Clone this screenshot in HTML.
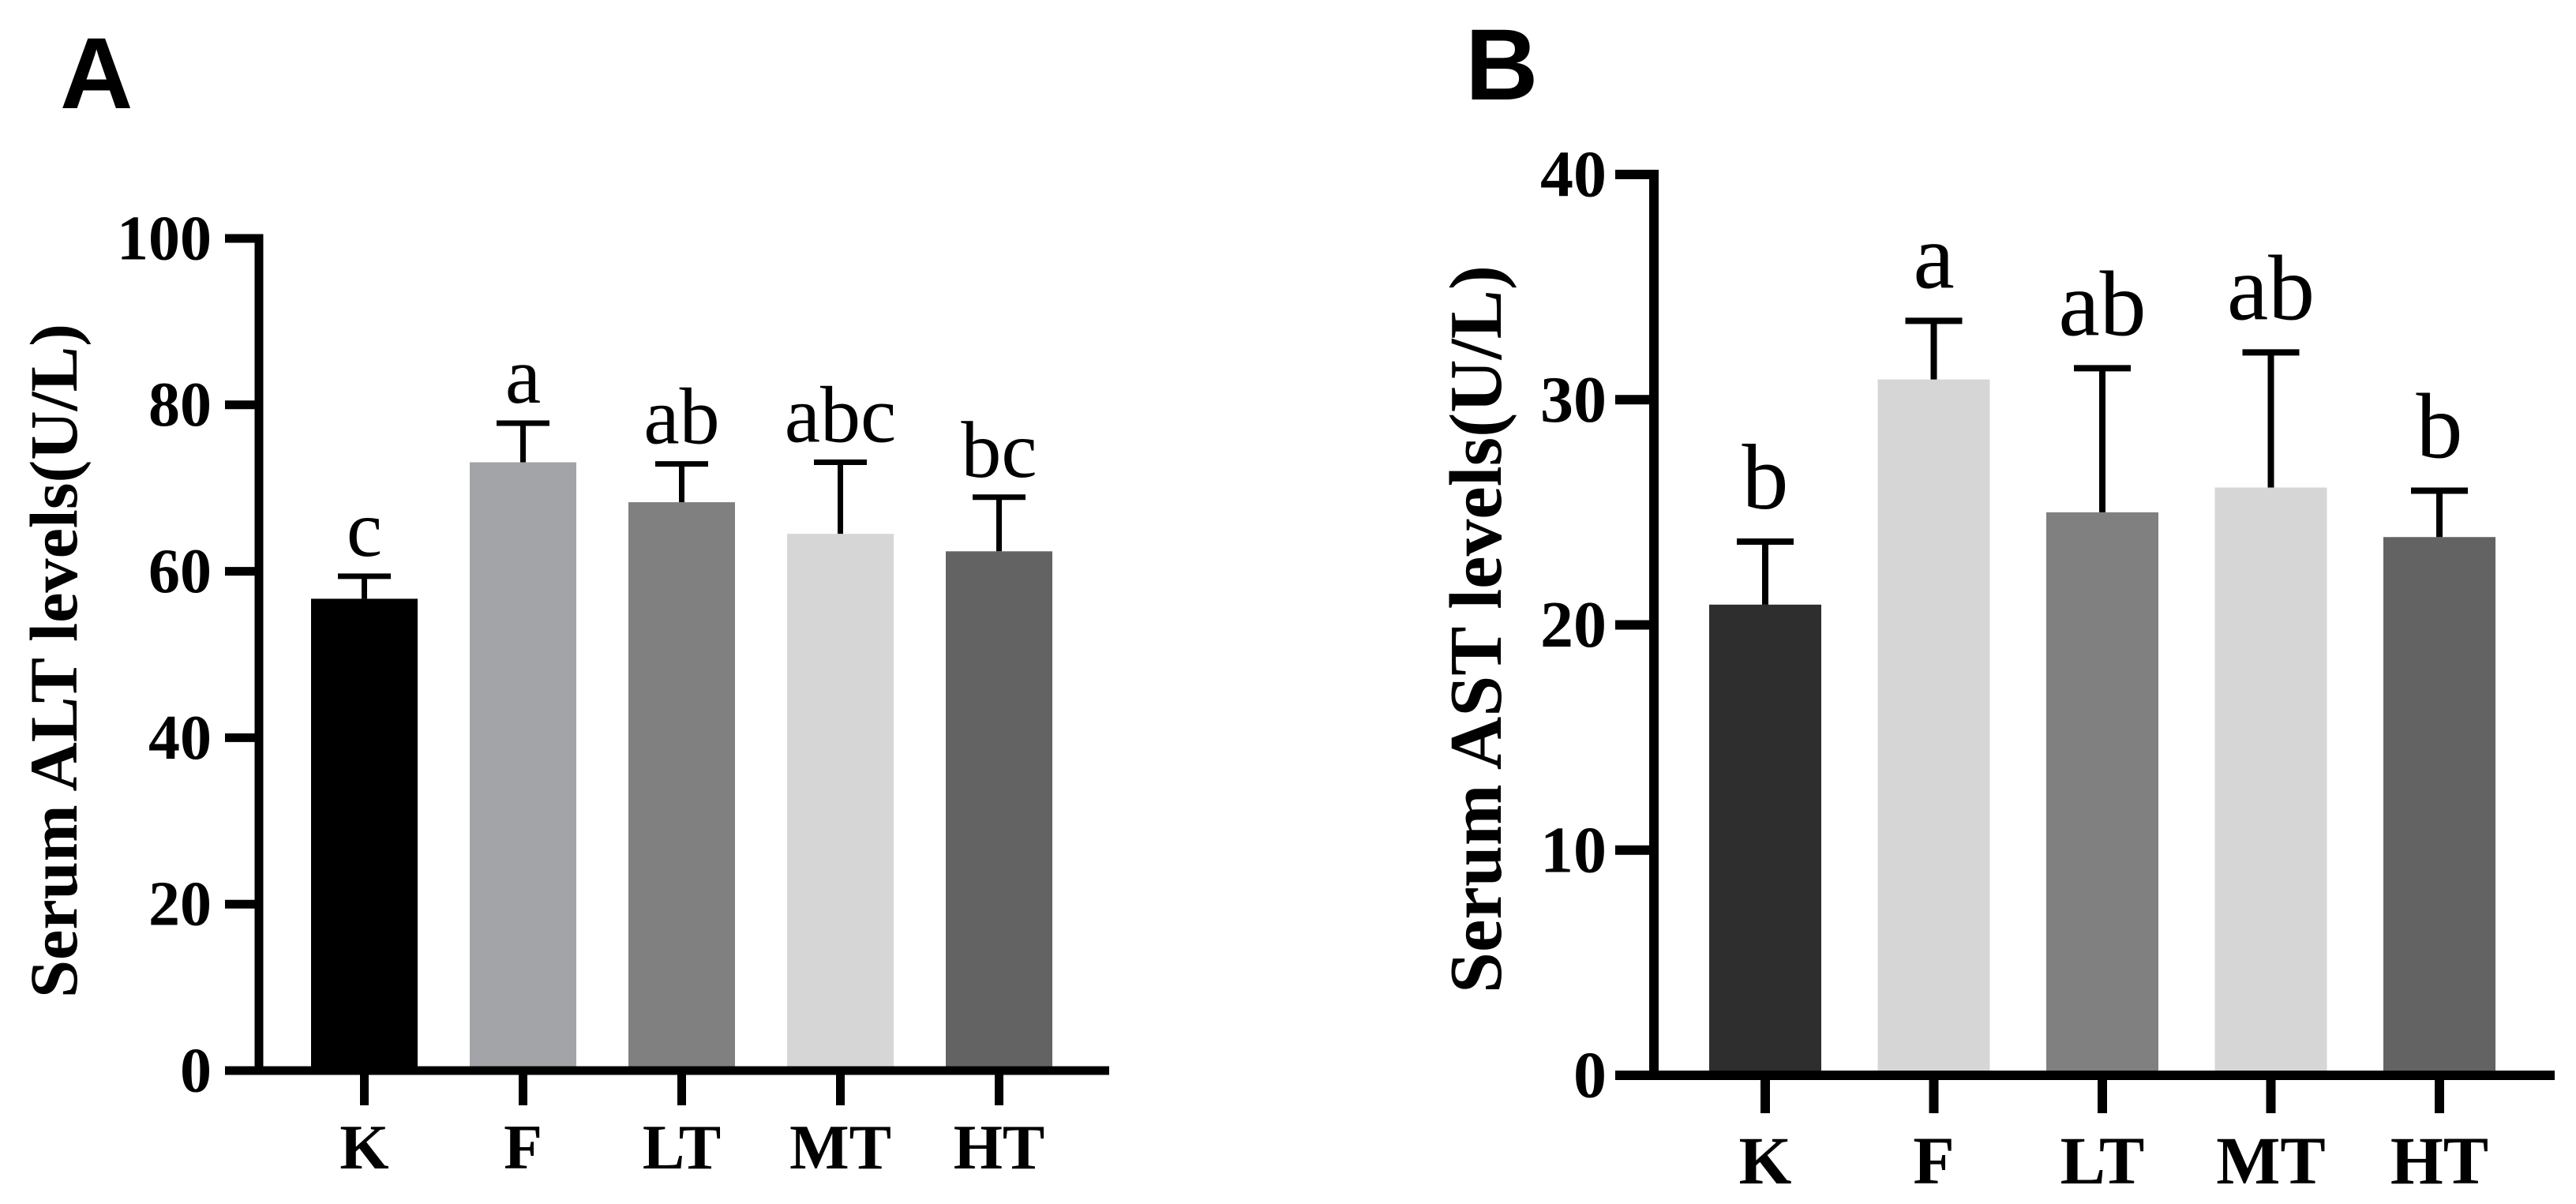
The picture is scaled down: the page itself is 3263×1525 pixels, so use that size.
<!DOCTYPE html>
<html><head><meta charset="utf-8"><style>
html,body{margin:0;padding:0;background:#fff;}
svg{display:block;}
</style></head><body>
<svg id="fig" width="3263" height="1525" viewBox="0 0 3263 1525" xmlns="http://www.w3.org/2000/svg">
<rect width="3263" height="1525" fill="#fff"/>
<text x="76" y="137" font-family="Liberation Sans, sans-serif" font-weight="bold" font-size="128">A</text>
<text x="1856" y="126" font-family="Liberation Sans, sans-serif" font-weight="bold" font-size="128">B</text>
<g id="pa"></g>
<g id="pb"></g>
</svg>
<script>
const categories = ["K","F","LT","MT","HT"];
const altMeans = [56.7, 73.1, 68.3, 64.5, 62.4];
const altErrTop = [59.4, 77.8, 72.9, 73.1, 68.9];
const altLetters = ["c","a","ab","abc","bc"];
const altTicks = [0,20,40,60,80,100];
const astMeans = [20.9, 30.9, 25.0, 26.1, 23.9];
const astErrTop = [23.7, 33.5, 31.4, 32.1, 25.96];
const astLetters = ["b","a","ab","ab","b"];
const astTicks = [0,10,20,30,40];

const NS = "http://www.w3.org/2000/svg";
function mk(parent, tag, attrs){
  const e = document.createElementNS(NS, tag);
  for (const k in attrs) e.setAttribute(k, attrs[k]);
  parent.appendChild(e);
  return e;
}
function panel(g, cfg){
  const y = v => cfg.y0 + (cfg.yTop - cfg.y0) * v / cfg.max;
  const xc = i => cfg.firstCenter + i * cfg.step;
  cfg.means.forEach((m, i) => {
    const r = mk(g, "rect", {x: xc(i) - cfg.bw/2, y: y(m), width: cfg.bw, height: cfg.y0 - y(m), fill: cfg.colors[i]});
    
    
    const eb = mk(g, "path", {d: `M${xc(i)} ${y(m)}V${y(cfg.err[i])}M${xc(i)-cfg.cap/2} ${y(cfg.err[i])}H${xc(i)+cfg.cap/2}`, stroke: "#000", "stroke-width": cfg.ew, fill: "none"});
    
    
    const t = mk(g, "text", {x: xc(i), y: y(cfg.err[i]) - cfg.gap, "text-anchor": "middle", "font-family": "Liberation Serif, serif", "font-size": cfg.letterFs});
    t.textContent = cfg.letters[i];
    
    
    const tk = mk(g, "line", {x1: xc(i), x2: xc(i), y1: cfg.y0, y2: cfg.xTickEnd, stroke: "#000", "stroke-width": cfg.aw});
    
    
    const xl = mk(g, "text", {x: xc(i), y: cfg.xLabelY, "text-anchor": "middle", "font-family": "Liberation Serif, serif", "font-weight": "bold", "font-size": cfg.xFs});
    xl.textContent = categories[i];
    
    
  });
  cfg.ticks.forEach(v => {
    const l = mk(g, "line", {x1: cfg.tickLeft, x2: cfg.ax, y1: y(v), y2: y(v), stroke: "#000", "stroke-width": cfg.aw});
    
    
    const t = mk(g, "text", {x: cfg.labRight, y: y(v) + cfg.yFs*0.33, "text-anchor": "end", "font-family": "Liberation Serif, serif", "font-weight": "bold", "font-size": cfg.yFs});
    t.textContent = v;
    
    
  });
  const axes = mk(g, "path", {d: `M${cfg.ax} ${y(cfg.max)-cfg.aw/2}V${cfg.y0}H${cfg.xRight}`, stroke: "#000", "stroke-width": cfg.aw, fill: "none"});
  
  
  const tt = mk(g, "text", {x: 0, y: 0, transform: `translate(${cfg.titleX},${cfg.titleY}) rotate(-90)`, "text-anchor": "middle", "font-family": "Liberation Serif, serif", "font-weight": "bold", "font-size": cfg.titleFs, textLength: cfg.titleLen, lengthAdjust: "spacingAndGlyphs", "dominant-baseline": "central"});
  tt.textContent = cfg.title;
  
  
}
panel(document.getElementById("pa"), {
  means: altMeans, err: altErrTop, letters: altLetters, ticks: altTicks, max: 100,
  y0: 1356, yTop: 302, ax: 328, xRight: 1405, tickLeft: 285, labRight: 268,
  firstCenter: 461.5, step: 201, bw: 135, cap: 67, ew: 7, aw: 11, gap: 26,
  colors: ["#000000","#a3a4a8","#808080","#d6d6d6","#636363"],
  letterFs: 102, xFs: 80, yFs: 80, xTickEnd: 1400, xLabelY: 1480,
  title: "Serum ALT levels(U/L)", titleX: 68, titleY: 837, titleFs: 86, titleLen: 854
});
panel(document.getElementById("pb"), {
  means: astMeans, err: astErrTop, letters: astLetters, ticks: astTicks, max: 40,
  y0: 1362, yTop: 221, ax: 2095, xRight: 3236, tickLeft: 2046, labRight: 2035,
  firstCenter: 2236, step: 213.5, bw: 142, cap: 72, ew: 8, aw: 12, gap: 42,
  colors: ["#2e2e2e","#d6d6d6","#808080","#d6d6d6","#636363"],
  letterFs: 118, xFs: 86, yFs: 84, xTickEnd: 1410, xLabelY: 1499,
  title: "Serum AST levels(U/L)", titleX: 1870, titleY: 797, titleFs: 94, titleLen: 922
});
</script>
</body></html>
